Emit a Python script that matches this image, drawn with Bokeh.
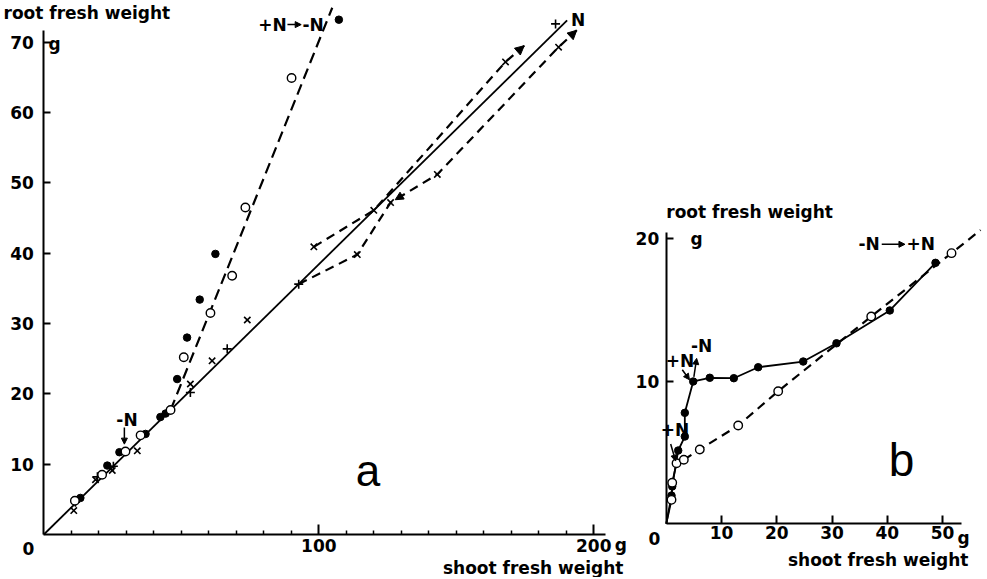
from bokeh.plotting import figure
from bokeh.layouts import row
from bokeh.models import Label, Arrow, NormalHead, FixedTicker, Range1d
from bokeh.embed import file_html
from bokeh.resources import INLINE

# ---------------- Panel a data (shoot g, root g) ----------------
a_filled_x = [13.3, 23.1, 27.5, 37.0, 42.4, 44.3, 48.5, 52.1, 56.7, 62.4, 107.3]
a_filled_y = [5.2, 9.8, 11.7, 14.3, 16.7, 17.2, 22.1, 28.0, 33.4, 39.9, 73.2]
a_open_x = [11.3, 21.2, 29.7, 35.2, 46.1, 50.9, 60.6, 68.5, 73.3, 90.1]
a_open_y = [4.8, 8.5, 11.8, 14.1, 17.7, 25.2, 31.5, 36.8, 46.5, 64.9]
a_cross_x = [10.9, 18.8, 24.9, 34.0, 53.3, 61.2, 74.0, 98.2, 114.0, 120.0, 126.1, 143.1, 167.9, 187.2]
a_cross_y = [3.4, 7.8, 9.1, 11.9, 21.4, 24.7, 30.5, 40.9, 39.8, 46.1, 47.2, 51.2, 67.2, 69.3]
a_plus_x = [11.5, 19.5, 25.3, 53.3, 66.7, 92.7, 186.1]
a_plus_y = [4.6, 8.2, 9.7, 20.2, 26.4, 35.6, 72.6]
# +N line (solid, through origin)
a_plusN_x = [0, 190.3]
a_plusN_y = [0, 73.1]
# +N -> -N line (steep dashed)
a_steep_x = [46.1, 104.9]
a_steep_y = [17.7, 74.9]
# transfer lines (dashed, x markers)
a_lineC_x = [92.7, 114.0, 126.1, 143.1, 187.2, 193.8]
a_lineC_y = [35.6, 39.8, 47.2, 51.2, 69.3, 71.7]
a_lineB_x = [98.2, 120.0, 167.9, 174.7]
a_lineB_y = [40.9, 46.1, 67.2, 69.5]
a_yticks = [10, 20, 30, 40, 50, 60, 70]
a_xticks = [100, 200]
a_xminor = [10, 20, 30, 40, 50, 60, 70, 80, 90, 110, 120, 130, 140, 150, 160, 170, 180, 190]

# ---------------- Panel b data ----------------
b_filled_x = [0.95, 1.08, 2.16, 3.36, 3.36, 4.88, 7.88, 12.23, 16.64, 24.79, 30.81, 40.46, 48.73]
b_filled_y = [1.98, 2.62, 5.14, 6.12, 7.78, 9.98, 10.24, 10.21, 10.98, 11.38, 12.66, 14.96, 18.30]
b_open_x = [0.95, 1.08, 1.86, 3.18, 6.07, 13.02, 20.26, 37.1, 51.63]
b_open_y = [1.68, 2.88, 4.25, 4.49, 5.21, 6.89, 9.30, 14.54, 18.98]
b_open_end_x = 56.9
b_open_end_y = 20.6
b_xticks = [10, 20, 30, 40, 50]
b_yticks = [10, 20]

FONT = "DejaVu Sans"
FS = "17px"
H = 577


def make_fig(width, xr, yr, xbounds, ybounds):
    p = figure(width=width, height=H, x_range=Range1d(*xr), y_range=Range1d(*yr),
               output_backend="svg", toolbar_location=None,
               min_border_left=0, min_border_right=0, min_border_top=0,
               min_border_bottom=0)
    p.grid.visible = False
    p.outline_line_color = None
    p.background_fill_color = "white"
    p.border_fill_color = "white"
    p.xaxis.fixed_location = 0
    p.yaxis.fixed_location = 0
    p.xaxis.bounds = xbounds
    p.yaxis.bounds = ybounds
    for ax in (p.xaxis, p.yaxis):
        ax.axis_line_width = 2
        ax.axis_line_color = "black"
        ax.major_tick_line_color = "black"
        ax.major_tick_line_width = 2
        ax.major_tick_out = 0
        ax.minor_tick_out = 0
        ax.minor_tick_line_color = "black"
        ax.minor_tick_line_width = 1.5
        ax.major_label_text_font = FONT
        ax.major_label_text_font_style = "bold"
        ax.major_label_text_font_size = FS
        ax.major_label_text_color = "black"
    return p


def txt(p, x, y, t, align="left", size=FS, style="bold", font=FONT):
    p.add_layout(Label(x=x, y=y, text=t, text_align=align, text_baseline="middle",
                       text_font=font, text_font_size=size, text_font_style=style,
                       text_color="black"))


def arrow(p, x0, y0, x1, y1, size=8, shaft=True):
    p.add_layout(Arrow(x_start=x0, y_start=y0, x_end=x1, y_end=y1,
                       line_color="black", line_width=1.5, line_alpha=1 if shaft else 0,
                       end=NormalHead(size=size, fill_color="black", line_color="black")))


# ================= Panel a =================
pa = make_fig(630, (-15.745, 213.35), (-6.114, 75.93), (0, 204.25), (0, 71.66))
pa.xaxis.ticker = FixedTicker(ticks=a_xticks, minor_ticks=a_xminor)
pa.xaxis.major_tick_in = 10
pa.xaxis.minor_tick_in = 4
pa.xaxis.major_label_standoff = 4
pa.xaxis.axis_line_width = 1.8
pa.yaxis.ticker = FixedTicker(ticks=a_yticks, minor_ticks=[])
pa.yaxis.major_tick_in = 7
pa.yaxis.minor_tick_in = 0
pa.yaxis.major_label_standoff = 10

pa.line(a_plusN_x, a_plusN_y, line_color="black", line_width=1.8)
pa.line(a_steep_x, a_steep_y, line_color="black", line_width=2.2, line_dash="11 6")
pa.line(a_lineC_x, a_lineC_y, line_color="black", line_width=2.2, line_dash="9 6")
pa.line(a_lineB_x, a_lineB_y, line_color="black", line_width=2.2, line_dash="9 6")

pa.scatter(a_cross_x, a_cross_y, marker="x", size=9, line_color="black", line_width=1.6)
pa.scatter(a_plus_x, a_plus_y, marker="cross", size=9, line_color="black", line_width=1.6)
pa.scatter(a_filled_x, a_filled_y, marker="circle", size=7.5, fill_color="black", line_color="black")
pa.scatter(a_open_x, a_open_y, marker="circle", size=8.5, fill_color="white", line_color="black",
           line_width=1.4)

arrow(pa, a_lineC_x[-2], a_lineC_y[-2], a_lineC_x[-1], a_lineC_y[-1], size=9, shaft=False)
arrow(pa, a_lineB_x[-2], a_lineB_y[-2], a_lineB_x[-1], a_lineB_y[-1], size=9, shaft=False)
arrow(pa, 135.0, 49.3, 127.8, 47.6, size=8, shaft=False)

txt(pa, -14.65, 74.22, "root fresh weight")
txt(pa, 1.7, 69.8, "g")
txt(pa, -5.56, -2.0, "0", align="center")
txt(pa, 207.6, -1.5, "g")
txt(pa, 210.8, -4.83, "shoot fresh weight", align="right")
txt(pa, 117.9, 9.03, "a", align="center", size="44px", style="normal", font="Liberation Sans")
txt(pa, 30.25, 16.35, "-N", align="center")
arrow(pa, 29.3, 15.2, 29.3, 12.85, size=6)
txt(pa, 88.3, 72.5, "+N", align="right")
arrow(pa, 88.6, 72.5, 93.6, 72.5, size=6)
txt(pa, 94.07, 72.5, "-N")
txt(pa, 194.3, 73.16, "N", align="center")

# ================= Panel b =================
pb = make_fig(355, (-6.471, 57.78), (-3.766, 36.697), (0, 53.35), (0, 20.43))
pb.xaxis.ticker = FixedTicker(ticks=b_xticks, minor_ticks=[])
pb.xaxis.major_tick_in = 8
pb.xaxis.minor_tick_in = 0
pb.xaxis.major_label_standoff = 2
pb.yaxis.ticker = FixedTicker(ticks=b_yticks, minor_ticks=[])
pb.yaxis.major_tick_in = 7
pb.yaxis.minor_tick_in = 0
pb.yaxis.major_label_standoff = 7

pb.line([0] + b_filled_x, [0] + b_filled_y, line_color="black", line_width=1.8)
pb.line([0] + b_open_x[:4], [0] + b_open_y[:4], line_color="black", line_width=1.8)
pb.line(b_open_x[3:] + [b_open_end_x], b_open_y[3:] + [b_open_end_y], line_color="black",
        line_width=2.2, line_dash="9 6")

pb.scatter(b_filled_x, b_filled_y, marker="circle", size=7.5, fill_color="black", line_color="black")
pb.scatter(b_open_x, b_open_y, marker="circle", size=8.5, fill_color="white", line_color="black",
           line_width=1.4)

txt(pb, 0.0, 21.9, "root fresh weight")
txt(pb, 4.4, 20.0, "g")
txt(pb, -2.13, -1.03, "0", align="center")
txt(pb, 52.7, -1.0, "g")
txt(pb, 54.7, -2.57, "shoot fresh weight", align="right")
txt(pb, 42.58, 4.44, "b", align="center", size="46px", style="normal", font="Liberation Sans")
txt(pb, 1.6, 6.6, "+N", align="center")
arrow(pb, 0.8, 5.6, 1.7, 4.4, size=6)
txt(pb, 2.5, 11.4, "+N", align="center")
arrow(pb, 2.9, 10.8, 4.2, 10.1, size=6)
txt(pb, 6.4, 12.5, "-N", align="center")
arrow(pb, 5.0, 10.3, 5.5, 11.6, size=6)
txt(pb, 34.8, 19.6, "-N")
arrow(pb, 39.0, 19.6, 43.2, 19.6, size=6)
txt(pb, 43.5, 19.6, "+N")

layout = row(pa, pb)
open("out.html", "w").write(file_html(layout, INLINE))
